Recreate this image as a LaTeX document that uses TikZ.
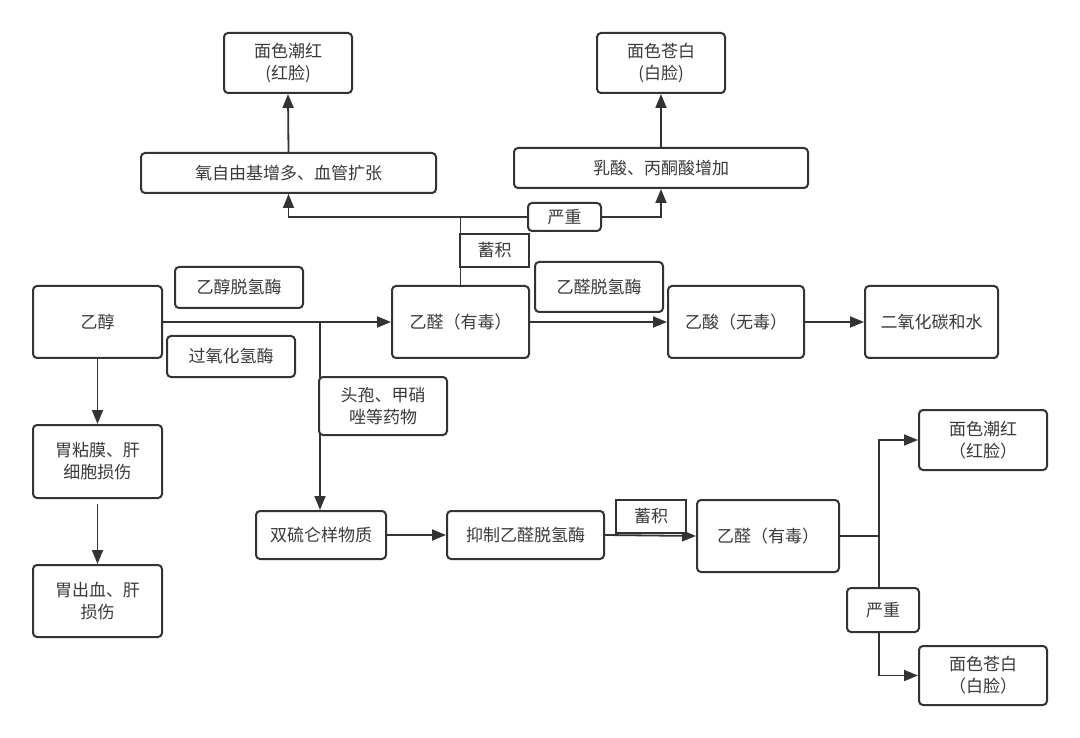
\documentclass[tikz,border=0pt]{standalone}
\usepackage{fontspec}
\setmainfont{Noto Sans CJK SC}
\usetikzlibrary{arrows.meta}
\definecolor{lc}{HTML}{333333}
\definecolor{tc}{HTML}{3A3A3A}
\pgfdeclarelayer{bg}
\pgfsetlayers{bg,main}
\tikzset{
  box/.style={draw=lc, line width=2pt, rounded corners=4pt, fill=white, text=tc,
    align=center, inner sep=0pt, font=\fontsize{17pt}{22pt}\selectfont},
  sqbox/.style={box, rounded corners=0pt},
  conn/.style={draw=lc, line width=1.8pt, -{Triangle[length=14pt,width=11pt]}},
  plain/.style={draw=lc, line width=1.8pt},
}
\begin{document}
\begin{tikzpicture}[x=1pt,y=-1pt]
\useasboundingbox (0,0) rectangle (1080,738);
% top section
\node[box, minimum width=128pt, minimum height=60pt] (r1) at (288,63) {面色潮红\\(红脸)};
\node[box, minimum width=128pt, minimum height=60pt] (w1) at (661,63) {面色苍白\\(白脸)};
\node[box, minimum width=295pt, minimum height=40pt] (ox) at (288.5,173) {氧自由基增多、血管扩张};
\node[box, minimum width=294pt, minimum height=40pt] (lac) at (661,168) {乳酸、丙酮酸增加};
\node[box, minimum width=73pt, minimum height=28pt] (sev1) at (564.5,217) {严重};
\node[sqbox, minimum width=69pt, minimum height=33pt] (acc1) at (494.5,250.5) {蓄积};
% middle row
\node[box, minimum width=128pt, minimum height=41pt] (adh) at (239,287.5) {乙醇脱氢酶};
\node[box, minimum width=128pt, minimum height=50pt] (aldh) at (599,287) {乙醛脱氢酶};
\node[box, minimum width=129pt, minimum height=72pt] (eth) at (97.5,322) {乙醇};
\node[box, minimum width=128pt, minimum height=41pt] (cat) at (231,356.5) {过氧化氢酶};
\node[box, minimum width=137pt, minimum height=72pt] (ald1) at (460.5,322) {乙醛（有毒）};
\node[box, minimum width=136pt, minimum height=72pt] (ac) at (736,322) {乙酸（无毒）};
\node[box, minimum width=133pt, minimum height=72pt] (co2) at (931.5,322) {二氧化碳和水};
\node[box, minimum width=128pt, minimum height=58pt] (drug) at (383,406) {头孢、甲硝\\唑等药物};
% left column
\node[box, minimum width=129pt, minimum height=73pt] (g1) at (97.5,461.5) {胃粘膜、肝\\细胞损伤};
\node[box, minimum width=129pt, minimum height=72pt] (g2) at (97.5,601) {胃出血、肝\\损伤};
% bottom row
\node[box, minimum width=130pt, minimum height=48pt] (dis) at (321,535) {双硫仑样物质};
\node[box, minimum width=157pt, minimum height=48pt] (inh) at (525.5,535) {抑制乙醛脱氢酶};
\node[sqbox, minimum width=70pt, minimum height=33pt] (acc2) at (651,516.5) {蓄积};
\node[box, minimum width=142pt, minimum height=72pt] (ald2) at (768,536) {乙醛（有毒）};
\node[box, minimum width=128pt, minimum height=60pt] (r2) at (983,440) {面色潮红\\（红脸）};
\node[box, minimum width=72pt, minimum height=44pt] (sev2) at (883,610) {严重};
\node[box, minimum width=128pt, minimum height=59pt] (w2) at (983,675.5) {面色苍白\\（白脸）};
% junctions
\coordinate (br1) at (320,322);
\coordinate (j1) at (460.5,217);
\coordinate (j2) at (879,536);
\begin{pgfonlayer}{bg}
\draw[conn] (eth.east) -- (ald1.west);
\draw[conn] (br1) -- (br1 |- dis.north);
\draw[plain] (ald1.north) -- (j1);
\draw[conn] (j1) -| (ox.south);
\draw[conn] (j1) -| (lac.south);
\draw[conn] (ox.north) -- (r1.south);
\draw[conn] (lac.north) -- (w1.south);
\draw[conn] (ald1.east) -- (ac.west);
\draw[conn] (ac.east) -- (co2.west);
\draw[conn] (eth.south) -- (g1.north);
\draw[conn, shorten <=5pt] (g1.south) -- (g2.north);
\draw[conn] (dis.east) -- (inh.west);
\draw[conn] (inh.east) -- (ald2.west);
\draw[plain] (ald2.east) -- (j2);
\draw[conn] (j2) |- (r2.west);
\draw[conn] (j2) |- (w2.west);
\end{pgfonlayer}
\end{tikzpicture}
\end{document}
